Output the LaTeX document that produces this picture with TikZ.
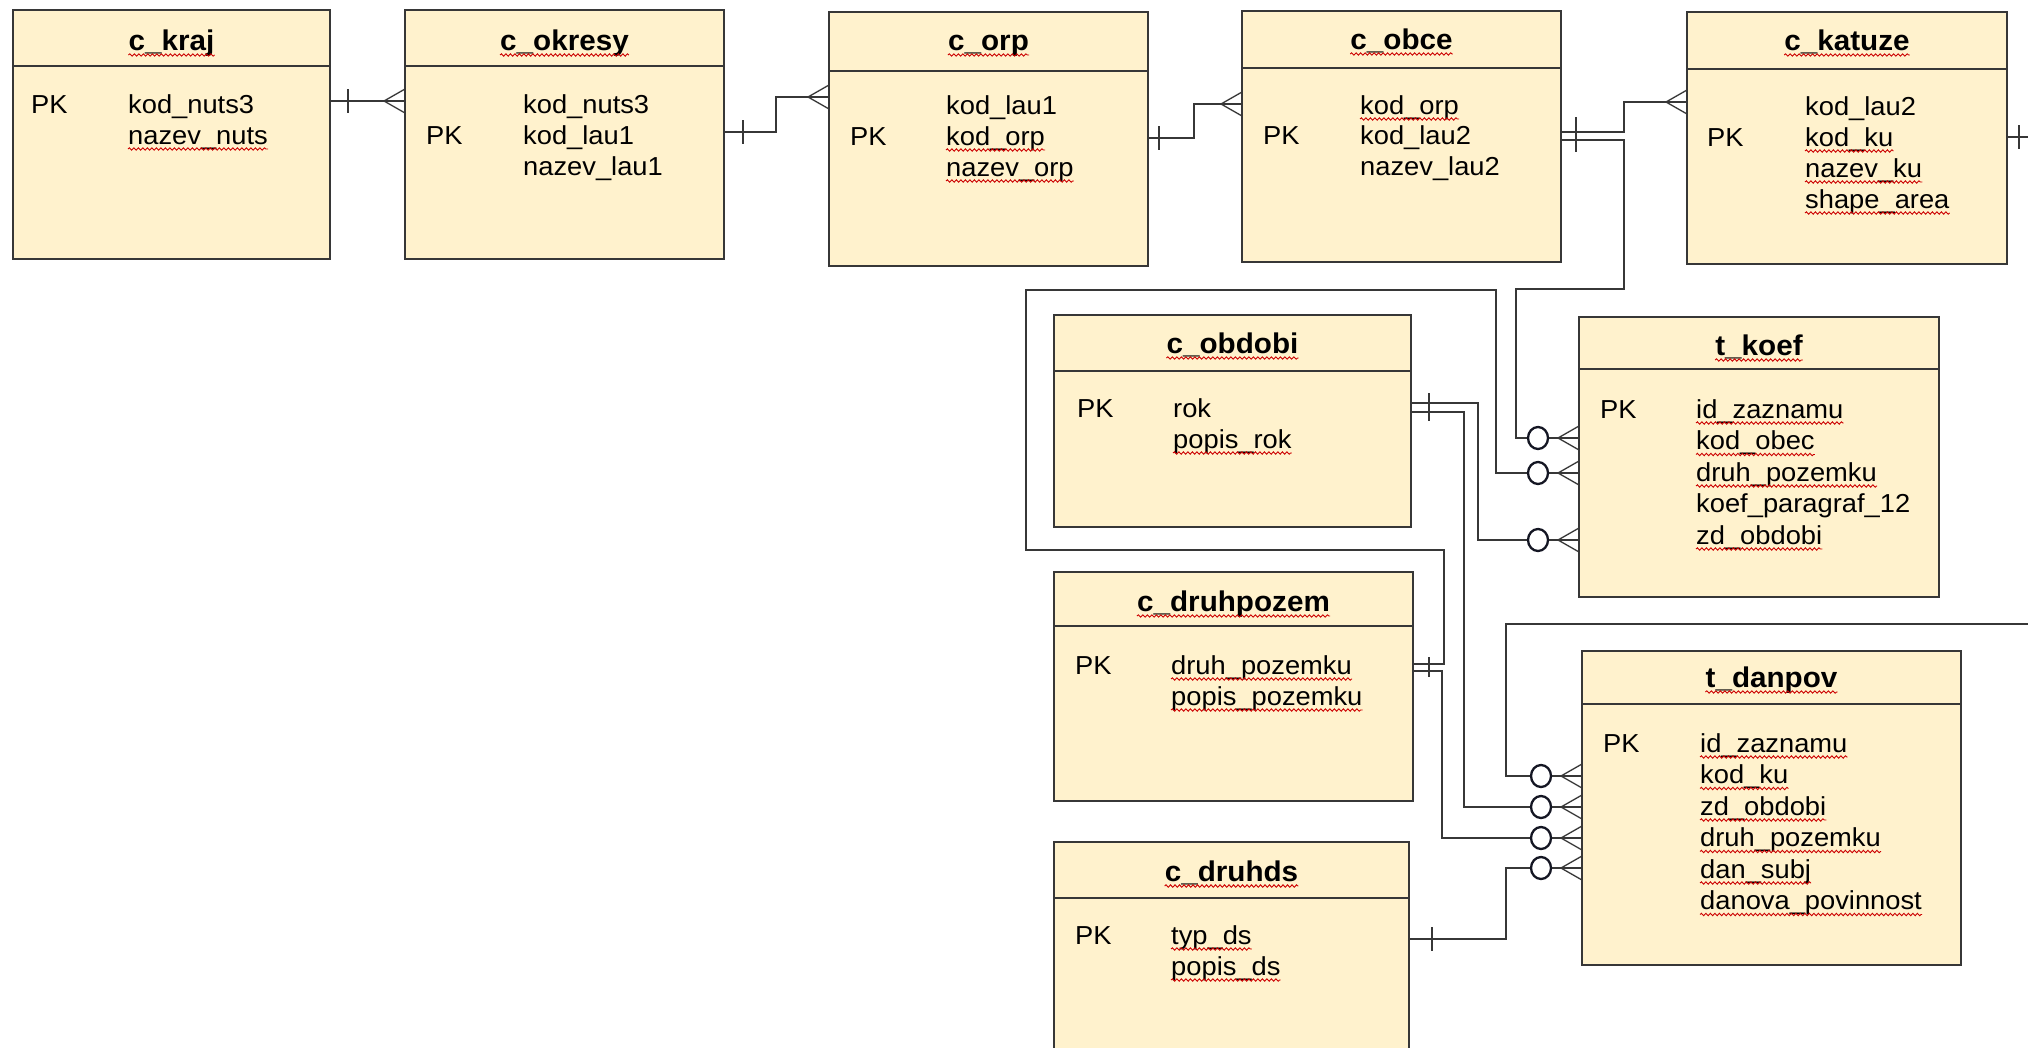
\documentclass[tikz,border=0pt]{standalone}
\usepackage{fontspec}
\setmainfont{Liberation Sans}
\newfontfamily\fieldfont[FakeStretch=1.05]{Liberation Sans}
\newfontfamily\titlefont[FakeStretch=1.04]{Liberation Sans}
\usetikzlibrary{decorations.pathmorphing}
\definecolor{boxfill}{RGB}{255,242,205}
\definecolor{edgec}{RGB}{55,55,55}
\definecolor{optc}{RGB}{20,22,35}
\tikzset{
  tbl/.style={draw=edgec, line width=1.6pt, fill=boxfill, rectangle, inner sep=0pt, outer sep=0pt, anchor=north west},
  hdr/.style={draw=edgec, line width=1.4pt},
  fld/.style={anchor=base west, inner sep=0pt, font=\fieldfont\fontsize{26}{30}\selectfont},
  ttl/.style={anchor=base, inner sep=0pt, font=\titlefont\bfseries\fontsize{28.5}{32}\selectfont},
  conn/.style={draw=edgec, line width=1.3pt},
  sqg/.style={draw=red!80!black, line width=0.9pt, decorate, decoration={snake, segment length=4.5pt, amplitude=1.2pt}},
  opt/.style={draw=optc, line width=2.3pt, fill=white},
}
\newcommand\Tbl[6]{%
  \node[tbl, minimum width={(#4)-(#2)}, minimum height={(#5)-(#3)}] (#1) at (#2,#3) {};
  \draw[hdr] (#1.west |- 0,#6) -- (#1.east |- 0,#6);}
\newcommand\Sq[1]{\draw[sqg] ([yshift=-5pt]#1.base west) -- ([yshift=-5pt]#1.base east);}
\newcommand\Crow[1]{\draw[conn] #1 ++(-21,0) -- ++(21,-12) #1 ++(-21,0) -- ++(21,12);}
\newcommand\Opt[1]{\draw[opt] #1 ++(-41,0) ellipse [x radius=10, y radius=11];}
\newcommand\Tick[3]{\draw[conn] (#1,#2) -- (#1,#3);}
\begin{document}
\begin{tikzpicture}[x=1pt,y=-1pt]
\fill[white] (0,0) rectangle (2028,1047);
\useasboundingbox (0,0) rectangle (2028,1047);
\clip (0,0) rectangle (2028,1047);

% ---------- tables ----------
\Tbl{kraj}{13}{10}{330}{259}{66}
\Tbl{okresy}{405}{10}{724}{259}{66}
\Tbl{orp}{829}{12}{1148}{266}{71}
\Tbl{obce}{1242}{11}{1561}{262}{68}
\Tbl{katuze}{1687}{12}{2007}{264}{69}
\Tbl{obdobi}{1054}{315}{1411}{527}{371}
\Tbl{druhpozem}{1054}{572}{1413}{801}{626}
\Tbl{druhds}{1054}{842}{1409}{1075}{898}
\Tbl{koef}{1579}{317}{1939}{597}{369}
\Tbl{danpov}{1582}{651}{1961}{965}{704}

% ---------- titles ----------
\node[ttl] (kraj-t) at (171.5,50) {c\_kraj}; \Sq{kraj-t}
\node[ttl] (okresy-t) at (564.5,50) {c\_okresy}; \Sq{okresy-t}
\node[ttl] (orp-t) at (988.5,50) {c\_orp}; \Sq{orp-t}
\node[ttl] (obce-t) at (1401.5,49) {c\_obce}; \Sq{obce-t}
\node[ttl] (katuze-t) at (1847,50) {c\_katuze}; \Sq{katuze-t}
\node[ttl] (obdobi-t) at (1232.5,353) {c\_obdobi}; \Sq{obdobi-t}
\node[ttl] (druhpozem-t) at (1233.5,611) {c\_druhpozem}; \Sq{druhpozem-t}
\node[ttl] (druhds-t) at (1231.5,881) {c\_druhds}; \Sq{druhds-t}
\node[ttl] (koef-t) at (1759,355) {t\_koef}; \Sq{koef-t}
\node[ttl] (danpov-t) at (1771.5,687) {t\_danpov}; \Sq{danpov-t}

% ---------- fields ----------
\node[fld] (kraj-pk) at (31,113) {PK};
\node[fld] (kraj-1) at (128,113) {kod\_nuts3};
\node[fld] (kraj-2) at (128,144) {nazev\_nuts}; \Sq{kraj-2}

\node[fld] (okresy-pk) at (426,144) {PK};
\node[fld] (okresy-1) at (523,113) {kod\_nuts3};
\node[fld] (okresy-2) at (523,144) {kod\_lau1};
\node[fld] (okresy-3) at (523,175) {nazev\_lau1};

\node[fld] (orp-pk) at (850,145) {PK};
\node[fld] (orp-1) at (946,114) {kod\_lau1};
\node[fld] (orp-2) at (946,145) {kod\_orp}; \Sq{orp-2}
\node[fld] (orp-3) at (946,176) {nazev\_orp}; \Sq{orp-3}

\node[fld] (obce-pk) at (1263,144) {PK};
\node[fld] (obce-1) at (1360,114) {kod\_orp}; \Sq{obce-1}
\node[fld] (obce-2) at (1360,144) {kod\_lau2};
\node[fld] (obce-3) at (1360,175) {nazev\_lau2};

\node[fld] (katuze-pk) at (1707,146) {PK};
\node[fld] (katuze-1) at (1805,115) {kod\_lau2};
\node[fld] (katuze-2) at (1805,146) {kod\_ku}; \Sq{katuze-2}
\node[fld] (katuze-3) at (1805,177) {nazev\_ku}; \Sq{katuze-3}
\node[fld] (katuze-4) at (1805,208) {shape\_area}; \Sq{katuze-4}

\node[fld] (obdobi-pk) at (1077,417) {PK};
\node[fld] (obdobi-1) at (1173,417) {rok};
\node[fld] (obdobi-2) at (1173,448) {popis\_rok}; \Sq{obdobi-2}

\node[fld] (druhpozem-pk) at (1075,674) {PK};
\node[fld] (druhpozem-1) at (1171,674) {druh\_pozemku}; \Sq{druhpozem-1}
\node[fld] (druhpozem-2) at (1171,705) {popis\_pozemku}; \Sq{druhpozem-2}

\node[fld] (druhds-pk) at (1075,944) {PK};
\node[fld] (druhds-1) at (1171,944) {typ\_ds}; \Sq{druhds-1}
\node[fld] (druhds-2) at (1171,975) {popis\_ds}; \Sq{druhds-2}

\node[fld] (koef-pk) at (1600,418) {PK};
\node[fld] (koef-1) at (1696,418) {id\_zaznamu}; \Sq{koef-1}
\node[fld] (koef-2) at (1696,449.5) {kod\_obec}; \Sq{koef-2}
\node[fld] (koef-3) at (1696,481) {druh\_pozemku}; \Sq{koef-3}
\node[fld] (koef-4) at (1696,512.5) {koef\_paragraf\_12};
\node[fld] (koef-5) at (1696,544) {zd\_obdobi}; \Sq{koef-5}

\node[fld] (danpov-pk) at (1603,752) {PK};
\node[fld] (danpov-1) at (1700,752) {id\_zaznamu}; \Sq{danpov-1}
\node[fld] (danpov-2) at (1700,783.5) {kod\_ku}; \Sq{danpov-2}
\node[fld] (danpov-3) at (1700,815) {zd\_obdobi}; \Sq{danpov-3}
\node[fld] (danpov-4) at (1700,846.5) {druh\_pozemku}; \Sq{danpov-4}
\node[fld] (danpov-5) at (1700,878) {dan\_subj}; \Sq{danpov-5}
\node[fld] (danpov-6) at (1700,909.5) {danova\_povinnost}; \Sq{danpov-6}

% ---------- connectors ----------
% c_kraj -> c_okresy
\draw[conn] (kraj.east |- 0,101) -- (okresy.west |- 0,101);
\Tick{348}{89}{113}
\Crow{(okresy.west |- 0,101)}
% c_okresy -> c_orp
\draw[conn] (okresy.east |- 0,132) -- (776,132) |- (orp.west |- 0,97);
\Tick{743}{120}{144}
\Crow{(orp.west |- 0,97)}
% c_orp -> c_obce
\draw[conn] (orp.east |- 0,138) -- (1194,138) |- (obce.west |- 0,104);
\Tick{1159}{126}{150}
\Crow{(obce.west |- 0,104)}
% c_obce -> c_katuze
\draw[conn] (obce.east |- 0,132) -- (1624,132) |- (katuze.west |- 0,102);
\Crow{(katuze.west |- 0,102)}
% c_obce -> t_koef (kod_obec)
\draw[conn] (obce.east |- 0,140) -- (1624,140) -- (1624,289) -- (1516,289) |- (koef.west |- 0,438);
\Tick{1576}{117}{152}
\Crow{(koef.west |- 0,438)}
\Opt{(koef.west |- 0,438)}
% c_katuze -> t_danpov (kod_ku)
\draw[conn] (katuze.east |- 0,137) -- (2070,137) -- (2070,624) -- (1506,624) |- (danpov.west |- 0,776);
\Tick{2019}{125}{149}
\Crow{(danpov.west |- 0,776)}
\Opt{(danpov.west |- 0,776)}
% c_obdobi -> t_koef (zd_obdobi)
\draw[conn] (obdobi.east |- 0,403) -- (1478,403) |- (koef.west |- 0,540);
\Crow{(koef.west |- 0,540)}
\Opt{(koef.west |- 0,540)}
% c_obdobi -> t_danpov (zd_obdobi)
\draw[conn] (obdobi.east |- 0,412) -- (1464,412) |- (danpov.west |- 0,807);
\Tick{1429}{393}{421}
\Crow{(danpov.west |- 0,807)}
\Opt{(danpov.west |- 0,807)}
% c_druhpozem -> t_koef (druh_pozemku)
\draw[conn] (druhpozem.east |- 0,664) -- (1444,664) -- (1444,550) -- (1026,550) -- (1026,290) -- (1496,290) |- (koef.west |- 0,473);
\Crow{(koef.west |- 0,473)}
\Opt{(koef.west |- 0,473)}
% c_druhpozem -> t_danpov (druh_pozemku)
\draw[conn] (druhpozem.east |- 0,671) -- (1442,671) |- (danpov.west |- 0,838);
\Tick{1429}{657}{677}
\Crow{(danpov.west |- 0,838)}
\Opt{(danpov.west |- 0,838)}
% c_druhds -> t_danpov (dan_subj)
\draw[conn] (druhds.east |- 0,939) -- (1506,939) |- (danpov.west |- 0,868);
\Tick{1432}{927}{951}
\Crow{(danpov.west |- 0,868)}
\Opt{(danpov.west |- 0,868)}
\end{tikzpicture}
\end{document}
